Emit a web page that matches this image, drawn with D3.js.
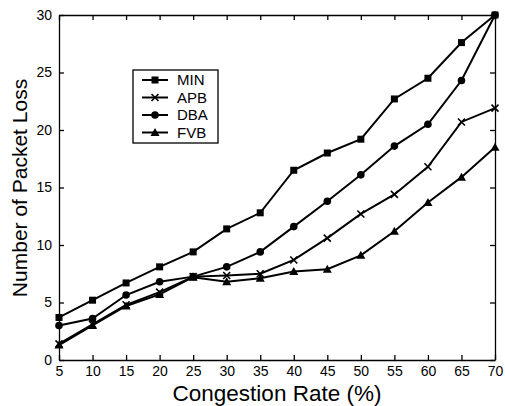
<!DOCTYPE html>
<html>
<head>
<meta charset="utf-8">
<script src="https://cdn.jsdelivr.net/npm/d3@7"></script>
<style>
  body { margin: 0; background: #fff; }
  svg { display: block; font-family: "Liberation Sans", Arial, sans-serif; }
  .axis path, .axis line { stroke: #000; stroke-width: 1.3; }
  .axis text { font-size: 14px; fill: #000; }
</style>
</head>
<body>
<script>
// data
var rates = [5, 10, 15, 20, 25, 30, 35, 40, 45, 50, 55, 60, 65, 70];
var minLoss = [3.7, 5.2, 6.7, 8.1, 9.4, 11.4, 12.8, 16.5, 18.0, 19.2, 22.7, 24.5, 27.6, 30.0];
var apbLoss = [1.4, 3.1, 4.8, 5.9, 7.25, 7.35, 7.5, 8.7, 10.6, 12.7, 14.4, 16.8, 20.7, 21.9];
var dbaLoss = [3.0, 3.6, 5.65, 6.8, 7.25, 8.1, 9.4, 11.6, 13.8, 16.1, 18.6, 20.5, 24.3, 30.0];
var fvbLoss = [1.3, 3.0, 4.7, 5.7, 7.2, 6.8, 7.1, 7.7, 7.9, 9.1, 11.2, 13.7, 15.9, 18.5];
var yTicks = [0, 5, 10, 15, 20, 25, 30];

var series = [
    {"name": "MIN", "values": minLoss, "marker": "square"},
    {"name": "APB", "values": apbLoss, "marker": "cross"},
    {"name": "DBA", "values": dbaLoss, "marker": "circle"},
    {"name": "FVB", "values": fvbLoss, "marker": "triangle"}
];

var width = 505, height = 406;
var margin = {top: 15, right: 10, bottom: 46, left: 59};
var cWidth = width - margin.left - margin.right;
var cHeight = height - margin.top - margin.bottom;

var svg = d3.select("body").append("svg")
    .attr("width", width)
    .attr("height", height);

var g = svg.append("g")
    .attr("transform", "translate(" + margin.left + "," + margin.top + ")");

var x = d3.scaleLinear().domain([5, 70]).range([0, cWidth]);
var y = d3.scaleLinear().domain([0, 30]).range([cHeight, 0]);

// axes, ticks pointing inward, box all round
g.append("g").attr("class", "axis")
    .attr("transform", "translate(0," + cHeight + ")")
    .call(d3.axisBottom(x).tickValues(rates).tickSizeInner(-5).tickSizeOuter(0).tickPadding(6));
g.append("g").attr("class", "axis")
    .call(d3.axisTop(x).tickValues(rates).tickSizeInner(-5).tickSizeOuter(0).tickFormat(""));
g.append("g").attr("class", "axis")
    .call(d3.axisLeft(y).tickValues(yTicks).tickSizeInner(-5).tickSizeOuter(0).tickPadding(7));
g.append("g").attr("class", "axis")
    .attr("transform", "translate(" + cWidth + ",0)")
    .call(d3.axisRight(y).tickValues(yTicks).tickSizeInner(-5).tickSizeOuter(0).tickFormat(""));

// axis titles
svg.append("text")
    .attr("x", 277)
    .attr("y", 400.5)
    .attr("text-anchor", "middle")
    .style("font-size", "22.5px")
    .text("Congestion Rate (%)");

svg.append("text")
    .attr("transform", "translate(27,188) rotate(-90)")
    .attr("text-anchor", "middle")
    .style("font-size", "21px")
    .text("Number of Packet Loss");

function drawMarker(sel, type) {
    if (type == "square") {
        sel.append("rect").attr("x", -3.5).attr("y", -3.5).attr("width", 7).attr("height", 7).attr("fill", "#000");
    } else if (type == "circle") {
        sel.append("circle").attr("r", 3.8).attr("fill", "#000");
    } else if (type == "triangle") {
        sel.append("path").attr("d", "M0,-4.5L4.5,3.5L-4.5,3.5Z").attr("fill", "#000");
    } else {
        sel.append("path").attr("d", "M-3.5,-3.5L3.5,3.5M-3.5,3.5L3.5,-3.5")
            .attr("stroke", "#000").attr("stroke-width", 1.6);
    }
}

var line = d3.line()
    .x(function(d, i) { return x(rates[i]); })
    .y(function(d) { return y(d); });

series.forEach(function(s) {
    g.append("path")
        .datum(s.values)
        .attr("fill", "none")
        .attr("stroke", "#000")
        .attr("stroke-width", 2)
        .attr("d", line);

    s.values.forEach(function(v, i) {
        var m = g.append("g").attr("transform", "translate(" + x(rates[i]) + "," + y(v) + ")");
        drawMarker(m, s.marker);
    });
});

// legend
var legend = svg.append("g").attr("transform", "translate(133,70)");
legend.append("rect")
    .attr("width", 85).attr("height", 73)
    .attr("fill", "#fff").attr("stroke", "#000").attr("stroke-width", 1.3);

series.forEach(function(s, i) {
    var row = legend.append("g").attr("transform", "translate(0," + (10 + i * 17.5) + ")");
    row.append("line").attr("x1", 9).attr("x2", 35).attr("stroke", "#000").attr("stroke-width", 2);
    var m = row.append("g").attr("transform", "translate(22,0)");
    drawMarker(m, s.marker);
    row.append("text").attr("x", 44).attr("dy", "0.36em")
        .style("font-size", "15px").text(s.name);
});
</script>
</body>
</html>
